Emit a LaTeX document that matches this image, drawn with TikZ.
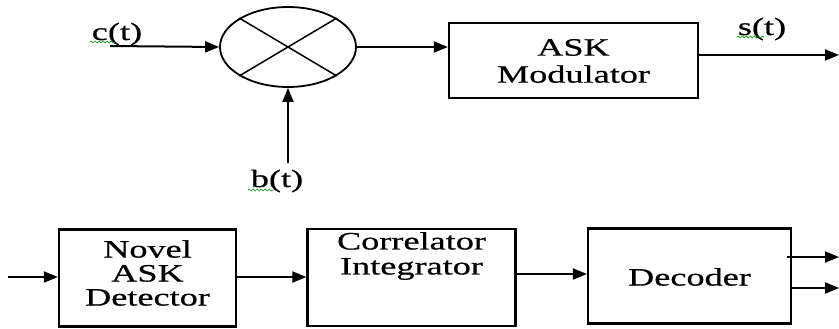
\documentclass[tikz,border=0pt]{standalone}
\usepackage{fontspec}
\setmainfont[FakeStretch=1.45,FakeBold=0.6]{Liberation Serif}
\usetikzlibrary{arrows.meta,decorations.pathmorphing,shapes.geometric}
\begin{document}
\begin{tikzpicture}[x=1pt,y=-1pt,
  box/.style={draw,line width=2.2pt,inner sep=0pt,align=center},
  lbl/.style={inner sep=0pt,font=\fontsize{25}{26}\selectfont},
  arr/.style={line width=2pt,-{Triangle[length=14pt,width=11pt]}},
  squig/.style={draw=green!60!black,line width=0.7pt,decorate,decoration={snake,amplitude=1pt,segment length=4pt}}]
\useasboundingbox (0,0) rectangle (839,329);
% top row
\node[draw,ellipse,line width=1.8pt,minimum width=136pt,minimum height=80pt,inner sep=0pt] (mix) at (288,47) {};
\draw[line width=1.5pt] (mix.north east) -- (mix.south west);
\draw[line width=1.5pt] (mix.north west) -- (mix.south east);
\node[box,minimum width=249pt,minimum height=75pt] (mod) at (573.5,60.5) {};
\node[lbl,align=center,font=\fontsize{25}{27}\selectfont] (modt) at (573.5,61) {ASK\\Modulator};
\node[lbl] (ct) at (117,34) {c(t)};
\node[lbl] (bt) at (277,181) {b(t)};
\node[lbl] (st) at (762,29) {s(t)};
\coordinate (cin) at (110,46);
\coordinate (bin) at (288,163);
\coordinate (sout) at (839,55);
\draw[arr] (cin) -- (mix.west);
\draw[arr] (bin) -- (mix.south);
\draw[arr] (mix.east) -- (mod.west |- mix.east);
\draw[arr] (mod.east |- sout) -- (sout);
\draw[squig] (90,42) -- (115,42);
\draw[squig] (248,190) -- (274,190);
\draw[squig] (737,37) -- (764,37);
% bottom row
\node[box,minimum width=177pt,minimum height=97pt] (nov) at (147.5,278) {};
\node[lbl,align=center,font=\fontsize{25}{24}\selectfont] (novt) at (147.5,273) {Novel\\ASK\\Detector};
\node[box,minimum width=208pt,minimum height=97pt] (cor) at (411.5,277.5) {};
\node[lbl,align=center,font=\fontsize{25}{25}\selectfont] (cort) at (411.5,256) {Correlator\\Integrator};
\node[box,minimum width=203pt,minimum height=95pt] (dec) at (689.5,276) {};
\node[lbl] (dect) at (689.5,277) {Decoder};
\coordinate (din) at (8,277);
\coordinate (cd) at (550,274);
\coordinate (o1) at (839,257);
\coordinate (o2) at (839,288);
\draw[arr] (din) -- (nov.west |- din);
\draw[arr] (nov.east |- din) -- (cor.west |- din);
\draw[arr] (cor.east |- cd) -- (dec.west |- cd);
\draw[arr] ([xshift=-5pt]dec.east |- o1) -- (o1);
\draw[arr] (dec.east |- o2) -- (o2);
\end{tikzpicture}
\end{document}
